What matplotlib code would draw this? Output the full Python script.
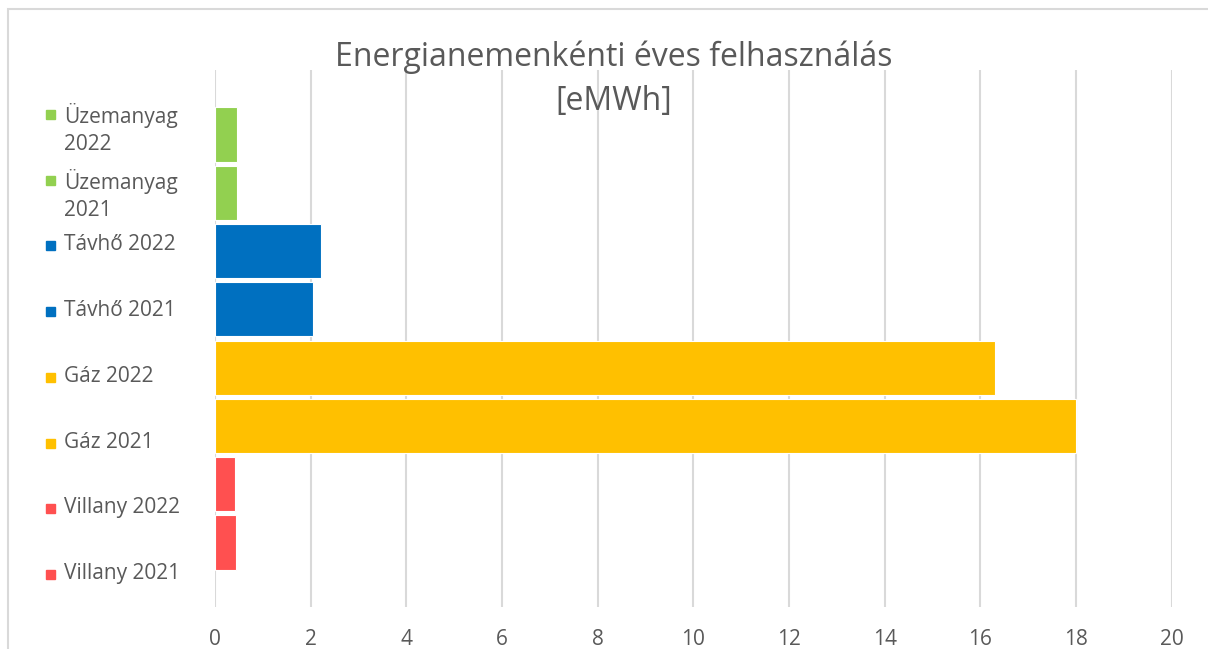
import matplotlib
matplotlib.use("Agg")
import matplotlib.pyplot as plt
from matplotlib.patches import Rectangle

# data (top to bottom)
labels = ["Üzemanyag\n2022", "Üzemanyag\n2021", "Távhő 2022", "Távhő 2021",
          "Gáz 2022", "Gáz 2021", "Villany 2022", "Villany 2021"]
values = [0.45, 0.46, 2.22, 2.05, 16.3, 18.0, 0.41, 0.44]
colors = ["#92D050", "#92D050", "#0070C0", "#0070C0",
          "#FFC000", "#FFC000", "#FF5050", "#FF5050"]
xticks = list(range(0, 21, 2))

plt.rcParams['font.family'] = ['Open Sans', 'DejaVu Sans']

fig = plt.figure(figsize=(12.08, 6.49), dpi=100)
ax = fig.add_axes([0.178, 0.0647, 0.792, 0.8275])

# chart border
fig.patches.append(Rectangle((8 / 1208, -0.1), 1.2, 1 - 9 / 649 + 0.1,
                             transform=fig.transFigure, fill=False,
                             edgecolor="#D9D9D9", linewidth=1.5))

ypos = list(range(len(values)))
ax.barh(ypos, values, height=0.93, color=colors, edgecolor="white", linewidth=0.8)

ax.set_xlim(0, 20)
ax.set_ylim(len(values) - 1 + 1.106, -1.106)
ax.set_xticks(xticks)
ax.set_yticks([])
ax.tick_params(axis="x", length=0, labelsize=15, labelcolor="#595959", pad=16)
ax.xaxis.grid(True, color="#D9D9D9", linewidth=1.5)
ax.set_axisbelow(True)
for s in ax.spines.values():
    s.set_visible(False)

# title
fig.text(0.508, 1 - 40 / 649, "Energianemenkénti éves felhasználás\n[eMWh]",
         ha="center", va="top", fontsize=23, color="#595959", linespacing=1.45)

# legend on the left
for i, (lab, col) in enumerate(zip(labels, colors)):
    ytop = 1 - (103 + i * 65.7) / 649
    fig.text(64 / 1208, ytop, lab, ha="left", va="top", fontsize=15,
             color="#595959", linespacing=1.4)
    fig.patches.append(Rectangle((46 / 1208, 1 - (119 + i * 65.7) / 649),
                                 9 / 1208, 9 / 649, transform=fig.transFigure,
                                 color=col))

fig.savefig("out.png", dpi=100)
